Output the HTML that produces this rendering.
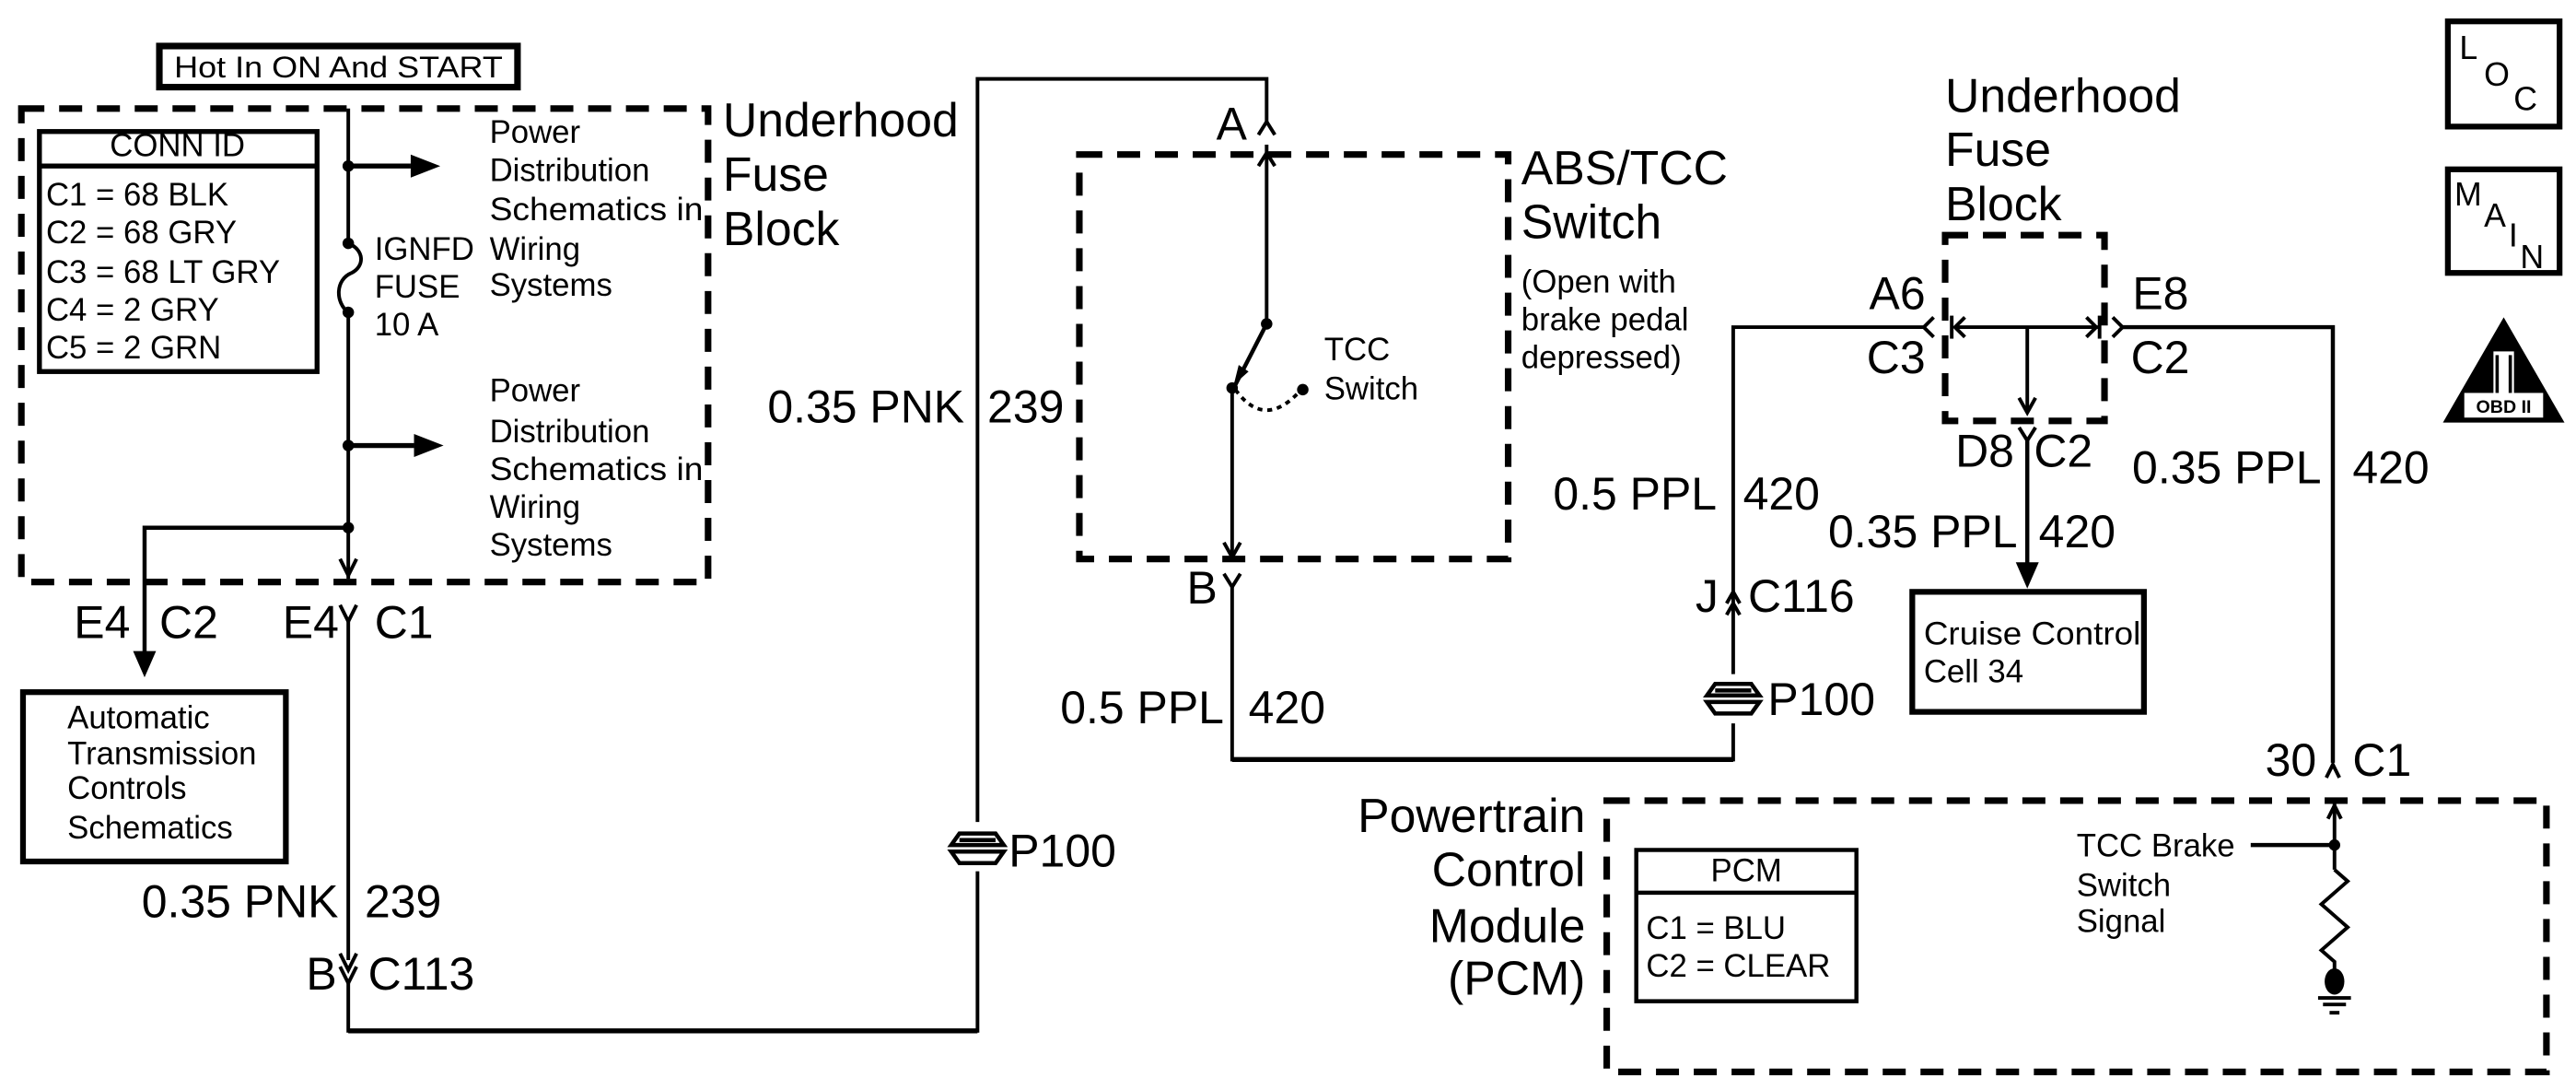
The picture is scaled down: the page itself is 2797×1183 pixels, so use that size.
<!DOCTYPE html>
<html><head><meta charset="utf-8"><style>
html,body{margin:0;padding:0;background:#fff;}
svg{display:block;}
text{font-family:"Liberation Sans",Arial,sans-serif;fill:#000;}
.s{font-size:19.5px;}
.m{font-size:28px;}
.l{font-size:29px;}
</style></head><body>
<svg width="2797" height="1183" viewBox="0 0 1568 663" preserveAspectRatio="none" xmlns="http://www.w3.org/2000/svg">
<g fill="none" stroke="#000" stroke-width="2.2">
 <rect x="97" y="28" width="218" height="25" stroke-width="4"/>
 <rect x="13" y="66" width="418" height="288" stroke-width="4" stroke-dasharray="14 9"/>
 <rect x="24" y="80" width="169" height="146" stroke-width="3"/>
 <line x1="24" y1="101" x2="193" y2="101" stroke-width="3"/>
 <line x1="212" y1="66" x2="212" y2="148"/>
 <path d="M212 148 C222 152 222 162 214 166 C204 170 204 184 212 190"/>
 <line x1="212" y1="190" x2="212" y2="352"/>
 <polyline points="207,340 212,350 217,340"/>
 <line x1="212" y1="101" x2="250" y2="101" stroke-width="3"/>
 <line x1="212" y1="271" x2="252" y2="271" stroke-width="3"/>
 <polyline points="212,321 88,321 88,398" stroke-width="2.5"/>
 <polyline points="207,368 212,378 217,368"/>
 <line x1="212" y1="378" x2="212" y2="584"/>
 <polyline points="207,580 212,590 217,580"/>
 <polyline points="207,588 212,598 217,588"/>
 <polyline points="212,598 212,627 595,627 595,48 771,48 771,76"/>
 <line x1="212" y1="627" x2="595" y2="627" stroke-width="3"/>
 <rect x="14" y="421" width="160" height="103" stroke-width="3.5"/>
 <rect x="657" y="94" width="261" height="246" stroke-width="4" stroke-dasharray="14 9"/>
 <polyline points="766,82 771,74 776,82"/>
 <line x1="771" y1="88" x2="771" y2="197"/>
 <polyline points="766,101 771,93 776,101"/>
 <line x1="771" y1="197" x2="752" y2="234" stroke-width="2.5"/>
 <path d="M752 237 Q770 262 792 237" stroke-dasharray="3 3"/>
 <line x1="750" y1="236" x2="750" y2="340"/>
 <polyline points="745,330 750,339 755,330"/>
 <polyline points="745,349 750,357 755,349"/>
 <polyline points="750,357 750,462 1055,462 1055,199 1172,199"/>
 <line x1="750" y1="462" x2="1055" y2="462" stroke-width="3"/>
 <polyline points="1051,367 1055,360 1059,367"/>
 <polyline points="1051,374 1055,367 1059,374"/>
 <rect x="1184" y="143" width="97" height="113" stroke-width="4" stroke-dasharray="14 9"/>
 <polyline points="1177,193 1171,199 1177,205"/>
 <line x1="1188" y1="192" x2="1188" y2="206"/>
 <polyline points="1196,193 1190,199 1196,205"/>
 <line x1="1190" y1="199" x2="1277" y2="199"/>
 <polyline points="1270,193 1276,199 1270,205"/>
 <line x1="1278" y1="192" x2="1278" y2="206"/>
 <polyline points="1286,193 1292,199 1286,205"/>
 <polyline points="1292,199 1420,199 1420,464" stroke-width="2.5"/>
 <line x1="1234" y1="199" x2="1234" y2="250"/>
 <polyline points="1229,242 1234,251 1239,242"/>
 <polyline points="1229,260 1234,268 1239,260"/>
 <line x1="1234" y1="268" x2="1234" y2="345" stroke-width="2.5"/>
 <rect x="1164" y="360" width="141" height="73" stroke-width="3.5"/>
 <polyline points="1416,473 1420,465 1424,473"/>
 <rect x="978" y="487" width="572" height="165" stroke-width="4" stroke-dasharray="14 9"/>
 <rect x="996" y="517" width="134" height="92" stroke-width="2.5"/>
 <line x1="996" y1="543" x2="1130" y2="543" stroke-width="2.5"/>
 <line x1="1421" y1="488" x2="1421" y2="529"/>
 <polyline points="1417,498 1421,490 1425,498"/>
 <line x1="1370" y1="514" x2="1421" y2="514" stroke-width="2.5"/>
 <polyline points="1421,529 1429,536 1413,550 1429,564 1413,578 1421,585 1421,590"/>
 <line x1="1411" y1="607" x2="1431" y2="607"/>
 <line x1="1414" y1="611" x2="1428" y2="611"/>
 <line x1="1418" y1="616" x2="1424" y2="616"/>
 <rect x="1490" y="13" width="68" height="64" stroke-width="3.5"/>
 <rect x="1490" y="103" width="68" height="63" stroke-width="3.5"/>
</g>
<g fill="#000">
 <circle cx="212" cy="101" r="3.5"/><circle cx="212" cy="148" r="3.5"/><circle cx="212" cy="190" r="3.5"/>
 <circle cx="212" cy="271" r="3.5"/><circle cx="212" cy="321" r="3.5"/>
 <polygon points="250,94 268,101 250,108"/>
 <polygon points="252,264 270,271 252,278"/>
 <polygon points="81,396 95,396 88,412"/>
 <circle cx="771" cy="197" r="3.5"/><circle cx="750" cy="236" r="3.5"/><circle cx="793" cy="237" r="3.5"/>
 <polygon points="754,222 760,226 751,234"/>
 <polygon points="1227,342 1241,342 1234,358"/>
 <circle cx="1421" cy="514" r="3.5"/>
 <ellipse cx="1421" cy="597" rx="6" ry="8"/>
 <polygon points="1524,193 1561,257 1487,257"/>
</g>
<g fill="none" stroke="#000" stroke-width="2.5">
 <line x1="595" y1="500" x2="595" y2="530" stroke="#fff" stroke-width="3"/>
 <path d="M579 514 L584 507 L606 507 L611 514 Z"/>
 <path d="M579 518 L611 518 L606 525 L584 525 Z"/>
 <line x1="584" y1="511" x2="606" y2="511"/>
 <line x1="1055" y1="410" x2="1055" y2="440" stroke="#fff" stroke-width="3"/>
 <path d="M1039 423 L1044 416 L1066 416 L1071 423 Z"/>
 <path d="M1039 427 L1071 427 L1066 434 L1044 434 Z"/>
 <line x1="1044" y1="420" x2="1066" y2="420"/>
</g>
<rect x="1517" y="213" width="14" height="30" fill="#fff" stroke="#000" stroke-width="1.5"/>
<line x1="1520" y1="216" x2="1520" y2="240" stroke="#000" stroke-width="2"/>
<line x1="1528" y1="216" x2="1528" y2="240" stroke="#000" stroke-width="2"/>
<rect x="1500" y="239" width="48" height="15" fill="#fff"/>
<text x="1524" y="251" font-size="11" text-anchor="middle" font-weight="bold">OBD II</text>

<text x="206" y="47" font-size="18" text-anchor="middle" textLength="200" lengthAdjust="spacingAndGlyphs">Hot In ON And START</text>
<text x="108" y="95" class="s" text-anchor="middle">CONN ID</text>
<g class="s">
<text x="28" y="125">C1 = 68 BLK</text>
<text x="28" y="148">C2 = 68 GRY</text>
<text x="28" y="172">C3 = 68 LT GRY</text>
<text x="28" y="195">C4 =  2 GRY</text>
<text x="28" y="218">C5 =  2 GRN</text>
<text x="228" y="158">IGNFD</text><text x="228" y="181">FUSE</text><text x="228" y="204">10 A</text>
<text x="298" y="87">Power</text><text x="298" y="110">Distribution</text><text x="298" y="134" textLength="130" lengthAdjust="spacingAndGlyphs">Schematics in</text><text x="298" y="158">Wiring</text><text x="298" y="180">Systems</text>
<text x="298" y="244">Power</text><text x="298" y="269">Distribution</text><text x="298" y="292" textLength="130" lengthAdjust="spacingAndGlyphs">Schematics in</text><text x="298" y="315">Wiring</text><text x="298" y="338">Systems</text>
<text x="41" y="443">Automatic</text><text x="41" y="465">Transmission</text><text x="41" y="486">Controls</text><text x="41" y="510">Schematics</text>
<text x="806" y="219">TCC</text><text x="806" y="243">Switch</text>
<text x="926" y="178">(Open with</text><text x="926" y="201">brake pedal</text><text x="926" y="224">depressed)</text>
<text x="1171" y="392" textLength="132" lengthAdjust="spacingAndGlyphs">Cruise Control</text><text x="1171" y="415">Cell 34</text>
<text x="1063" y="536" text-anchor="middle">PCM</text>
<text x="1002" y="571">C1 = BLU</text><text x="1002" y="594">C2 = CLEAR</text>
<text x="1264" y="521">TCC Brake</text><text x="1264" y="545">Switch</text><text x="1264" y="567">Signal</text>
</g>
<g class="l">
<text x="440" y="83">Underhood</text><text x="440" y="116">Fuse</text><text x="440" y="149">Block</text>
<text x="926" y="112">ABS/TCC</text><text x="926" y="145">Switch</text>
<text x="1184" y="68">Underhood</text><text x="1184" y="101">Fuse</text><text x="1184" y="134">Block</text>
<text x="965" y="506" text-anchor="end">Powertrain</text><text x="965" y="539" text-anchor="end">Control</text><text x="965" y="573" text-anchor="end">Module</text><text x="965" y="605" text-anchor="end">(PCM)</text>
</g>
<g class="m">
<text x="45" y="388">E4</text><text x="97" y="388">C2</text>
<text x="172" y="388">E4</text><text x="228" y="388">C1</text>
<text x="206" y="558" text-anchor="end">0.35 PNK</text><text x="222" y="558">239</text>
<text x="205" y="602" text-anchor="end">B</text><text x="224" y="602">C113</text>
<text x="587" y="257" text-anchor="end">0.35 PNK</text><text x="601" y="257">239</text>
<text x="614" y="527">P100</text>
<text x="759" y="85" text-anchor="end">A</text>
<text x="741" y="367" text-anchor="end">B</text>
<text x="745" y="440" text-anchor="end">0.5 PPL</text><text x="760" y="440">420</text>
<text x="1046" y="372" text-anchor="end">J</text><text x="1064" y="372">C116</text>
<text x="1076" y="435">P100</text>
<text x="1045" y="310" text-anchor="end">0.5 PPL</text><text x="1061" y="310">420</text>
<text x="1172" y="188" text-anchor="end">A6</text><text x="1172" y="227" text-anchor="end">C3</text>
<text x="1298" y="188">E8</text><text x="1297" y="227">C2</text>
<text x="1226" y="284" text-anchor="end">D8</text><text x="1238" y="284">C2</text>
<text x="1228" y="333" text-anchor="end">0.35 PPL</text><text x="1241" y="333">420</text>
<text x="1413" y="294" text-anchor="end">0.35 PPL</text><text x="1432" y="294">420</text>
<text x="1410" y="472" text-anchor="end">30</text><text x="1432" y="472">C1</text>
</g>
<g font-size="20">
<text x="1497" y="36">L</text><text x="1512" y="52">O</text><text x="1530" y="67">C</text>
<text x="1494" y="125">M</text><text x="1512" y="138">A</text><text x="1527" y="150">I</text><text x="1534" y="163">N</text>
</g>
</svg>
</body></html>
